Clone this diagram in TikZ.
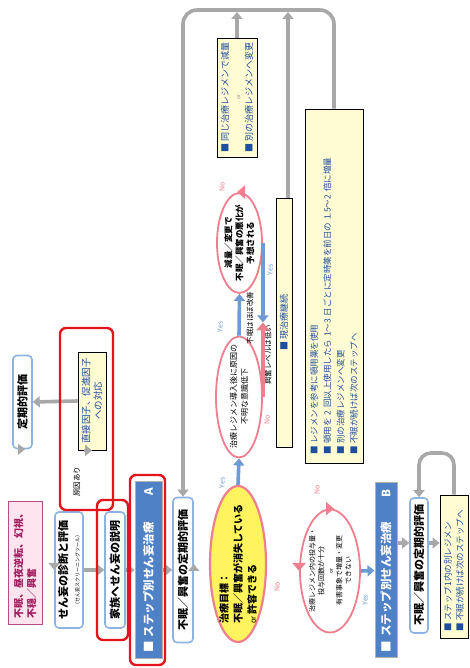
\documentclass[tikz,border=0pt]{standalone}
\usepackage{fontspec}
\setmainfont{Noto Sans CJK JP}
\usetikzlibrary{shapes.geometric,arrows.meta,calc}

\definecolor{boxblue}{HTML}{8DB3E2}
\definecolor{stepblue}{HTML}{4F81C6}
\definecolor{notetext}{HTML}{1F4E9F}
\definecolor{notefill}{HTML}{FFFBD2}
\definecolor{pinkline}{HTML}{EF7E8E}
\definecolor{goalfill}{HTML}{FFF45E}
\definecolor{arrowgray}{HTML}{A8A8A8}
\definecolor{yesblue}{HTML}{6E9BD6}
\definecolor{framered}{HTML}{E5131B}
\definecolor{startfill}{HTML}{FDE4EF}
\definecolor{startline}{HTML}{B94B86}
\definecolor{starttext}{HTML}{A11E5E}

\newcommand{\fsz}[2]{\fontsize{#1pt}{#2pt}\selectfont}

\begin{document}
\begin{tikzpicture}[x=1pt,y=1pt,
    evalbox/.style={draw=boxblue,line width=1.6pt,rounded corners=4pt,fill=white,inner sep=0pt,font=\fsz{11}{13}\bfseries},
    startbox/.style={draw=startline,line width=1pt,fill=startfill,text=starttext,inner sep=0pt,align=left,font=\fsz{10}{13}\bfseries},
    notebox/.style={draw=black,line width=0.9pt,fill=notefill,text=notetext,inner sep=0pt},
    stepbox/.style={draw=black!30,line width=1pt,fill=stepblue,text=white,inner sep=0pt,align=left,font=\fsz{11.5}{13}\bfseries},
    choice/.style={ellipse,draw=pinkline,line width=1.8pt,fill=white,inner sep=0pt},
    redframe/.style={draw=framered,line width=2.4pt,rounded corners=6pt},
    grayarr/.style={draw=arrowgray,line width=3.6pt,-{Triangle[length=7pt,width=11pt]}},
    yesarr/.style={grayarr,draw=yesblue},
    noarr/.style={grayarr,draw=pinkline,line width=4pt,-{Triangle[length=8pt,width=13pt]}},
    yeslbl/.style={text=yesblue,font=\fsz{7}{8}},
    nolbl/.style={text=pinkline,font=\fsz{7}{8}},
    remark/.style={font=\fsz{7.5}{9}}
  ]
  \begin{scope}[rotate=90,transform shape]
    \path[use as bounding box] (0,0) rectangle (668,-470);

    \node[startbox,minimum width=123,minimum height=34] (start) at (104.5,-25) {不眠、昼夜逆転、幻視、\\不穏／興奮};
    \node[evalbox,minimum width=93,minimum height=19] (teiki) at (266,-22.5) {定期的評価};
    \node[evalbox,minimum width=116,minimum height=28,align=center] (shindan) at (98,-69) {せん妄の診断と評価\\[-1pt]{\fsz{5}{6}\mdseries （せん妄スクリーニングツール）}};
    \node[notebox,minimum width=98,minimum height=28,align=center,font=\fsz{9.5}{12}] (taiou) at (267,-92) {直接因子、促進因子\\への対応};
    \node[evalbox,minimum width=116,minimum height=20] (kazoku) at (98,-115) {家族へせん妄の説明};
    \node[stepbox,minimum width=177,minimum height=27,text width=165] (stepA) at (98,-148.5) {■ ステップ別せん妄治療\hfill A};
    \node[evalbox,minimum width=145,minimum height=20] (eval1) at (98,-183) {不眠／興奮の定期的評価};

    \node[choice,fill=goalfill,line width=2.2pt,minimum width=156,minimum height=56] (goal) at (104,-238) {};
    \node[font=\fsz{10}{14}\bfseries,align=left] at (goal.center) {治療目標：\\不眠／興奮が消失している\\{\mdseries\fsz{7.5}{14}or} 許容できる};
    \node[choice,minimum width=121,minimum height=46] (e2) at (271,-239) {};
    \node[font=\fsz{8}{11},align=center] at (e2.center) {治療レジメン導入後に原因の\\不明な意識低下};
    \node[choice,minimum width=100,minimum height=45] (e3) at (425,-239.5) {};
    \node[font=\fsz{8.5}{11}\bfseries,align=center] at (e3.center) {減量／変更で\\不眠／興奮の悪化が\\予想される};
    \node[choice,minimum width=123,minimum height=60] (e4) at (97,-330) {};
    \node[font=\fsz{7}{9},align=center] at (e4.center) {治療レジメン内の投与量・\\投与回数が十分\\{\fsz{5}{9}or}\\有害事象で増量・変更\\できない};

    \node[notebox,minimum width=119,minimum height=40,align=center,font=\fsz{9}{12}] (topbox) at (570.5,-237) {■ 同じ治療レジメンで減量\\{\fsz{5}{8}\color{black!50}or}\\■ 別の治療レジメンへ変更};
    \node[notebox,minimum width=249,minimum height=16,font=\fsz{9}{11}] (keizoku) at (345.5,-284) {■ 現治療継続};
    \node[notebox,minimum width=354,minimum height=58,text width=338,align=left,font=\fsz{8.5}{13.3}] (big) at (382,-334) {■ レジメンを参考に頓用薬を使用\\■ 頓用を 2 回以上使用したら 1〜3 日ごとに定時薬を前日の 1.5〜2 倍に増量\\■ 別の治療レジメンへ変更\\■ 不眠が続けば次のステップへ};

    \node[stepbox,minimum width=175,minimum height=22,text width=163] (stepB) at (97.5,-386) {■ ステップ別せん妄治療\hfill B};
    \node[evalbox,minimum width=135,minimum height=18] (eval2) at (102.5,-419) {不眠／興奮の定期的評価};
    \node[notebox,minimum width=143,minimum height=28,text width=131,align=left,font=\fsz{8.5}{12}] (final) at (101.5,-454) {■ ステップ1内の別レジメン\\■ 不眠が続けば次のステップへ};

    \node[remark] (cause) at (186,-77) {原因あり};
    \node[remark] (better) at (350,-250) {不眠はほぼ改善};
    \node[remark] (calm) at (313,-268) {興奮レベルは低い};
    \node[yeslbl] at (185,-222) {Yes};
    \node[nolbl] at (81,-277) {No};
    \node[yeslbl] at (341,-220) {Yes};
    \node[nolbl] at (248,-267) {No};
    \node[yeslbl] at (398,-270) {Yes};
    \node[nolbl] at (481,-222) {No};
    \node[nolbl] at (178,-317) {No};
    \node[yeslbl] at (68,-365) {Yes};

    \coordinate (loopr) at (658,-334);
    \coordinate (loopl) at (658,-183);
    \coordinate (toptip) at (656,-237);
    \coordinate (midtip) at (656,-288);
    \coordinate (keizokuend) at (470,-288);
    \coordinate (loopb) at (215,-454);
    \coordinate (loopbl) at (215,-419);

    \draw[grayarr] (teiki.west) -- (start.east -| teiki.west);
    \draw[grayarr] (shindan.north -| start.south) -- (shindan.north);
    \draw[grayarr] (shindan.south) -- (kazoku.north);
    \draw[grayarr] (shindan.south -| taiou.west) -- (taiou.west);
    \draw[grayarr] (taiou.north) -- (teiki.south);
    \draw[grayarr] (kazoku.south) -- (stepA.north);
    \draw[grayarr] (stepA.south) -- (eval1.north);
    \draw[grayarr] (eval1.south) -- (eval1.south -| goal.north);
    \draw[grayarr,rounded corners=14pt] (big.east) -- (loopr) -- (loopl) -- (eval1.east);
    \draw[grayarr] (topbox.east) -- (toptip);
    \draw[grayarr] (keizokuend) -- (midtip);

    \draw[yesarr] (goal.east) -- (e2.west);
    \draw[yesarr] (e2.east) -- (e3.west);
    \draw[noarr] (e3.east) -- (topbox.west -| e3.east);
    \draw[yesarr] (e3.south) -- (e3.south -| keizoku.north);
    \draw[noarr] (e2.south) -- (e2.south -| keizoku.north);
    \draw[noarr] (e4.north -| goal.south) -- (e4.north);
    \draw[noarr] (e4.east) -- (big.west -| e4.east);
    \draw[yesarr] (e4.south) -- (stepB.north);
    \draw[grayarr] ($(stepB.south)+(27.5,0)$) -- ($(eval2.north)+(22.5,0)$);
    \draw[grayarr] ($(eval2.south)+(22.5,0)$) -- ($(final.north)+(23.5,0)$);
    \draw[grayarr,rounded corners=12pt] (final.east) -- (loopb) -- (loopbl) -- (eval2.east);

    \draw[redframe] (158,-60) rectangle (340,-113);
    \draw[redframe] (28,-97) rectangle (168,-128);
    \draw[redframe] (3,-130) rectangle (193,-165);
  \end{scope}
\end{tikzpicture}
\end{document}
